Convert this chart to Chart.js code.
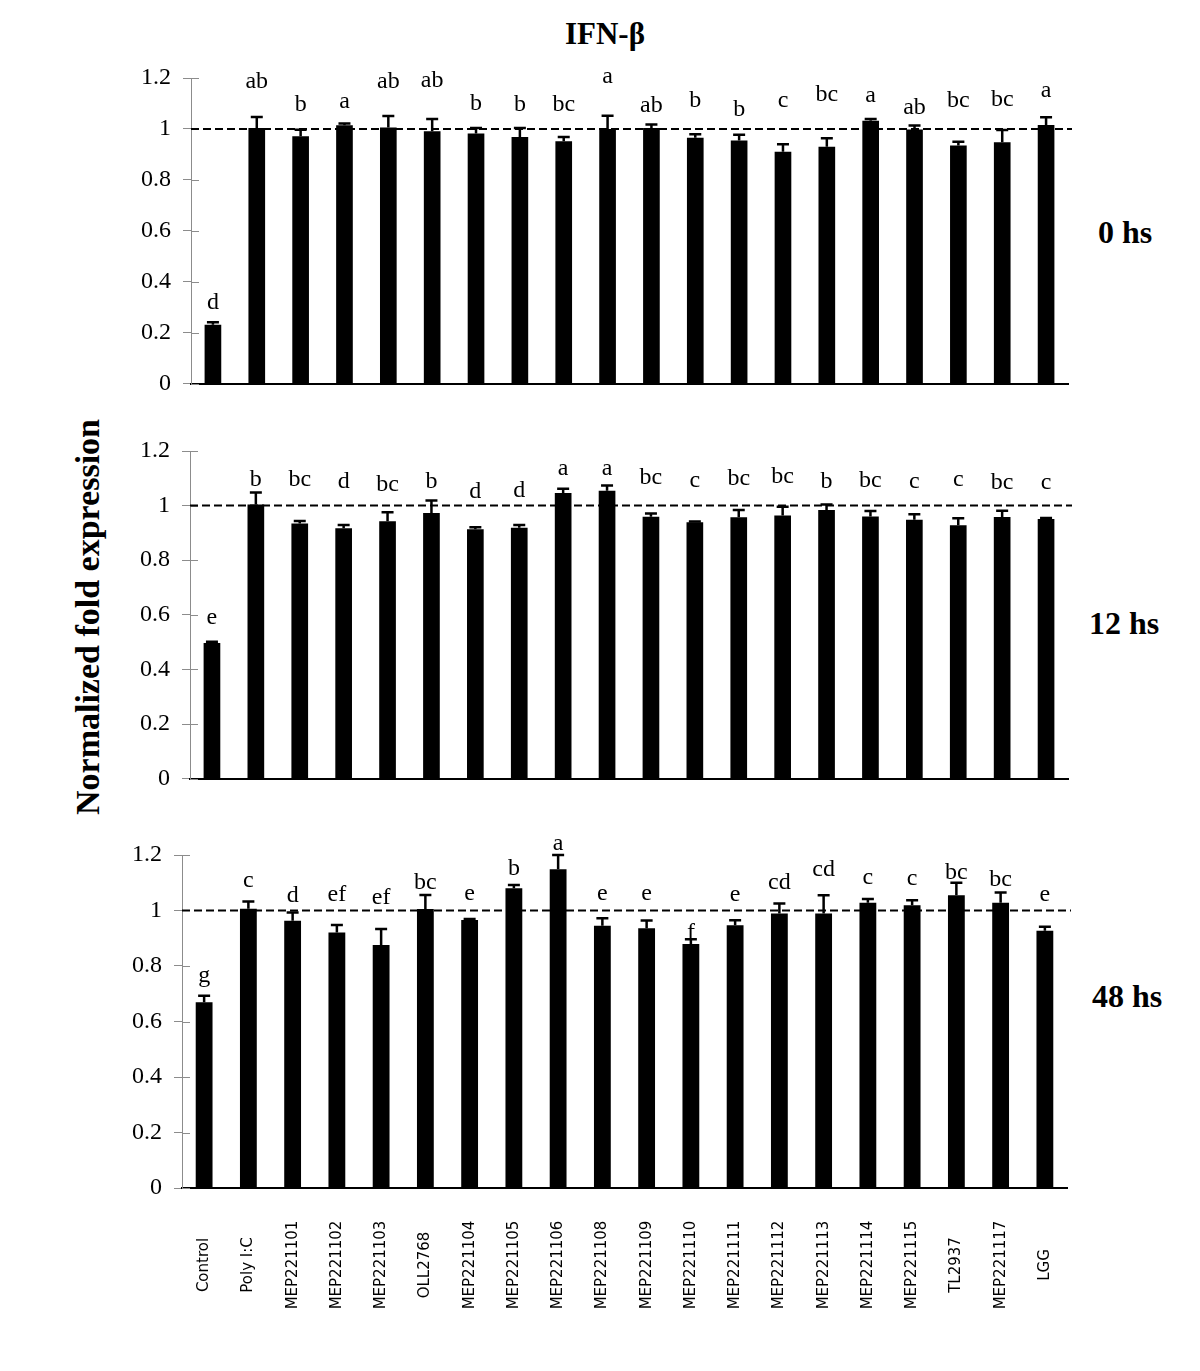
<!DOCTYPE html>
<html><head><meta charset="utf-8">
<script src="https://cdn.jsdelivr.net/npm/chart.js@4"></script>
<style>
html,body{margin:0;padding:0;background:#fff;}
#wrap{position:relative;width:1200px;height:1371px;overflow:hidden;background:#fff;}
canvas{position:absolute;left:0;}
.t{position:absolute;font-family:"Liberation Serif","Times New Roman",serif;font-weight:bold;line-height:1;white-space:nowrap;color:#000;}
</style></head><body>
<div id="wrap">
  <div class="t" style="left:605px;top:18px;font-size:31px;transform:translateX(-50%);">IFN-β</div>
  <div class="t" style="left:1098px;top:216px;font-size:32px;">0 hs</div>
  <div class="t" style="left:1089px;top:607px;font-size:32px;">12 hs</div>
  <div class="t" style="left:1092px;top:980px;font-size:32px;">48 hs</div>
  <div class="t" style="left:88px;top:617px;font-size:34px;transform:translate(-50%,-50%) rotate(-90deg);">Normalized fold expression</div>
  <canvas id="c0" width="1200" height="370" style="top:40px"></canvas>
  <canvas id="c1" width="1200" height="390" style="top:415px"></canvas>
  <canvas id="c2" width="1200" height="556" style="top:815px"></canvas>
</div>
<script>
const categories = ['Control','Poly I:C','MEP221101','MEP221102','MEP221103','OLL2768','MEP221104','MEP221105','MEP221106','MEP221108','MEP221109','MEP221110','MEP221111','MEP221112','MEP221113','MEP221114','MEP221115','TL2937','MEP221117','LGG'];
const yTicks = [0, 0.2, 0.4, 0.6, 0.8, 1, 1.2];
const yTickLabels = ['0', '0.2', '0.4', '0.6', '0.8', '1', '1.2'];
const referenceLevel = 1;

const values0h = [0.231,1.004,0.971,1.014,1.006,0.991,0.982,0.968,0.952,1.000,1.004,0.965,0.955,0.910,0.930,1.032,0.998,0.935,0.948,1.015];
const errors0h = [0.010,0.043,0.026,0.007,0.045,0.048,0.022,0.036,0.016,0.052,0.013,0.014,0.022,0.030,0.033,0.007,0.015,0.015,0.048,0.031];
const letters0h = ['d','ab','b','a','ab','ab','b','b','bc','a','ab','b','b','c','bc','a','ab','bc','bc','a'];
const letterLevel0h = [0.294,1.162,1.071,1.084,1.160,1.166,1.075,1.071,1.071,1.179,1.066,1.085,1.049,1.085,1.111,1.104,1.060,1.085,1.091,1.127];

const values12h = [0.497,1.004,0.934,0.917,0.943,0.973,0.913,0.919,1.046,1.054,0.959,0.939,0.957,0.964,0.984,0.960,0.948,0.928,0.958,0.951];
const errors12h = [0.004,0.044,0.010,0.012,0.033,0.046,0.008,0.010,0.016,0.020,0.012,0.003,0.027,0.032,0.020,0.020,0.020,0.026,0.023,0.004];
const letters12h = ['e','b','bc','d','bc','b','d','d','a','a','bc','c','bc','bc','b','bc','c','c','bc','c'];
const letterLevel12h = [0.566,1.072,1.070,1.064,1.054,1.066,1.028,1.030,1.112,1.112,1.078,1.069,1.075,1.081,1.066,1.069,1.063,1.071,1.059,1.059];

const values48h = [0.669,1.006,0.963,0.921,0.876,1.005,0.966,1.080,1.149,0.945,0.936,0.879,0.947,0.989,0.989,1.028,1.019,1.055,1.028,0.927];
const errors48h = [0.024,0.026,0.030,0.027,0.057,0.051,0.003,0.012,0.051,0.027,0.028,0.017,0.018,0.036,0.066,0.013,0.018,0.045,0.037,0.014];
const letters48h = ['g','c','d','ef','ef','bc','e','b','a','e','e','f','e','cd','cd','c','c','bc','bc','e'];
const letterLevel48h = [0.741,1.083,1.032,1.035,1.023,1.078,1.038,1.128,1.218,1.038,1.038,0.897,1.035,1.079,1.123,1.097,1.091,1.115,1.087,1.035];

const SERIF = '"Liberation Serif","Times New Roman",serif';

function makePanel(id, values, errors, letters, letterLevels, g, showLabels, canvasTop) {
  const canvas = document.getElementById(id);
  const H = canvas.height;
  const overlay = {
    id: 'overlay_' + id,
    afterDatasetsDraw(chart) {
      const ctx = chart.ctx, xs = chart.scales.x, ys = chart.scales.y, ca = chart.chartArea;
      ctx.save();
      ctx.strokeStyle = '#8c8c8c'; ctx.lineWidth = 1;
      yTicks.forEach(t => {
        const y = Math.round(ys.getPixelForValue(t)) + 0.5;
        ctx.beginPath(); ctx.moveTo(ca.left, y); ctx.lineTo(ca.left + 8, y); ctx.stroke();
      });
      const yr = ys.getPixelForValue(referenceLevel);
      ctx.strokeStyle = '#000'; ctx.lineWidth = 2; ctx.setLineDash([8, 4]);
      ctx.beginPath(); ctx.moveTo(ca.left, yr); ctx.lineTo(ca.right + 4, yr); ctx.stroke();
      ctx.setLineDash([]);
      ctx.lineWidth = 2.5; ctx.strokeStyle = '#000';
      values.forEach((v, i) => {
        const x = xs.getPixelForValue(i);
        const y0 = ys.getPixelForValue(v);
        const y1 = ys.getPixelForValue(v + errors[i]);
        ctx.beginPath(); ctx.moveTo(x, y0); ctx.lineTo(x, y1);
        ctx.moveTo(x - 6, y1); ctx.lineTo(x + 6, y1); ctx.stroke();
      });
      ctx.fillStyle = '#000'; ctx.font = '24px ' + SERIF;
      ctx.textAlign = 'center'; ctx.textBaseline = 'alphabetic';
      letters.forEach((L, i) => {
        ctx.fillText(L, xs.getPixelForValue(i), ys.getPixelForValue(letterLevels[i]));
      });
      ctx.restore();
    },
    afterDraw(chart) {
      if (!showLabels) return;
      const ctx = chart.ctx, xs = chart.scales.x;
      ctx.save();
      ctx.fillStyle = '#000'; ctx.font = '15px "DejaVu Sans", Verdana, sans-serif';
      ctx.textAlign = 'center'; ctx.textBaseline = 'middle';
      categories.forEach((c, i) => {
        ctx.save();
        ctx.translate(xs.getPixelForValue(i), 1265 - canvasTop);
        ctx.rotate(-Math.PI / 2);
        ctx.fillText(c, 0, 0);
        ctx.restore();
      });
      ctx.restore();
    }
  };
  return new Chart(canvas, {
    type: 'bar',
    data: {
      labels: categories,
      datasets: [{ data: values, backgroundColor: '#000', borderWidth: 0, barPercentage: 0.38, categoryPercentage: 1.0 }]
    },
    options: {
      responsive: false, animation: false, devicePixelRatio: 1,
      layout: { padding: { left: 0, right: 1200 - g.right, top: g.top, bottom: H - g.bottom } },
      plugins: { legend: { display: false }, tooltip: { enabled: false } },
      scales: {
        x: {
          type: 'category', offset: true,
          grid: { display: false, drawTicks: false },
          border: { display: true, color: '#000', width: 2 },
          ticks: { display: false },
          afterFit: s => { s.height = 0; }
        },
        y: {
          min: 0, max: 1.2,
          afterBuildTicks: s => { s.ticks = yTicks.map(v => ({ value: v })); },
          ticks: {
            font: { family: SERIF, size: 24 }, color: '#000', padding: 12,
            callback: (v, i) => yTickLabels[i]
          },
          grid: { drawOnChartArea: false, drawTicks: true, tickLength: 8, color: '#8c8c8c', lineWidth: 1 },
          border: { display: true, color: '#8c8c8c', width: 1 },
          afterFit: s => { s.width = g.left; }
        }
      }
    },
    plugins: [overlay]
  });
}

makePanel('c0', values0h, errors0h, letters0h, letterLevel0h, { left: 191, right: 1068, top: 38, bottom: 346 }, false, 40);
makePanel('c1', values12h, errors12h, letters12h, letterLevel12h, { left: 190, right: 1068, top: 36, bottom: 367 }, false, 415);
makePanel('c2', values48h, errors48h, letters48h, letterLevel48h, { left: 182, right: 1067, top: 40, bottom: 373 }, true, 815);
</script>
</body></html>
